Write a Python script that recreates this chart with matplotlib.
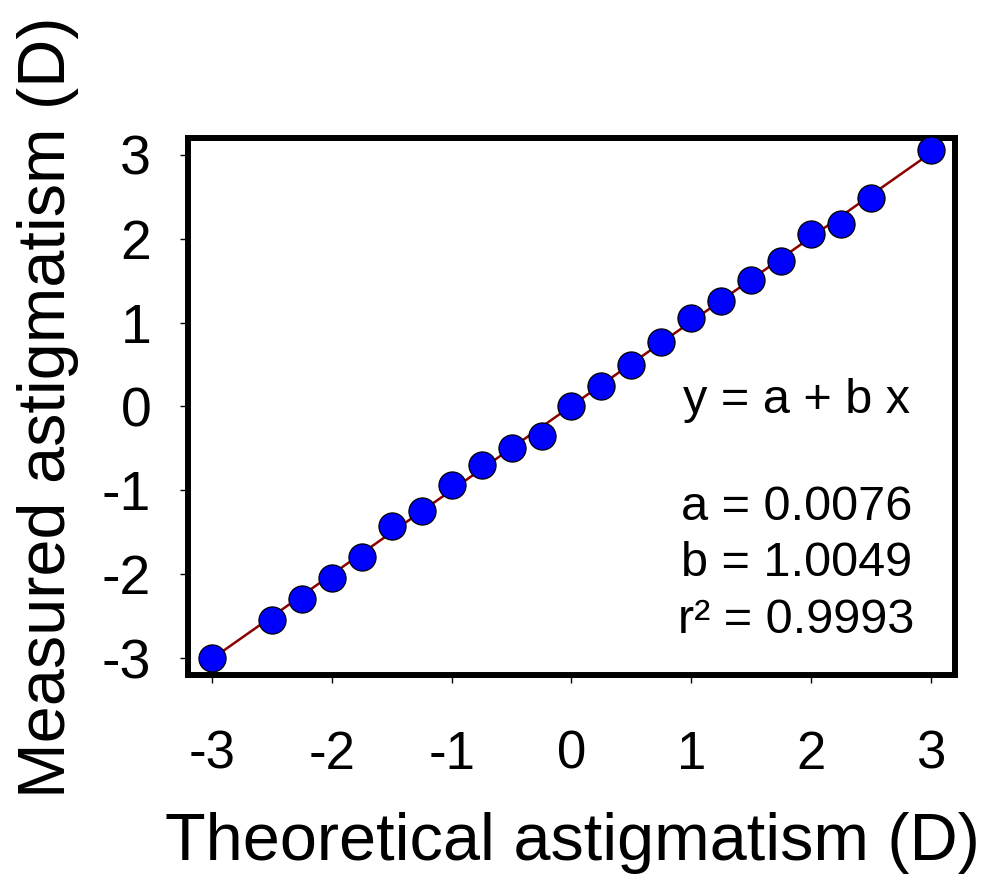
import numpy as np
import matplotlib
matplotlib.use("Agg")
import matplotlib.pyplot as plt

# theoretical vs measured astigmatism (D)
theoretical = [-3, -2.5, -2.25, -2, -1.75, -1.5, -1.25, -1, -0.75, -0.5, -0.25,
               0, 0.25, 0.5, 0.75, 1, 1.25, 1.5, 1.75, 2, 2.25, 2.5, 3]
measured = [-3.0, -2.54, -2.29, -2.04, -1.79, -1.42, -1.25, -0.93, -0.70, -0.50, -0.35,
            0.0, 0.25, 0.49, 0.77, 1.06, 1.26, 1.51, 1.73, 2.06, 2.18, 2.48, 3.06]

# regression results shown in the plot
fit_a = 0.0076
fit_b = 1.0049
fit_r2 = 0.9993

ticks = [-3, -2, -1, 0, 1, 2, 3]

plt.rcParams['font.family'] = ['Liberation Sans', 'DejaVu Sans']

fig = plt.figure(figsize=(9.89, 8.75), dpi=100)
ax = fig.add_axes([0.1901, 0.2286, 0.7755, 0.6137])

line_x = np.array([min(theoretical), max(theoretical)])
ax.plot(line_x, fit_a + fit_b * line_x, color='#8b0000', linewidth=1.8, zorder=2)
ax.plot(theoretical, measured, linestyle='none', marker='o', markersize=19.5,
        markerfacecolor='#0000ff', markeredgecolor='black', markeredgewidth=0.9,
        clip_on=False, zorder=5)

ax.set_xlim(-3.2, 3.2)
ax.set_ylim(-3.2, 3.2)
ax.set_xticks(ticks)
ax.set_yticks(ticks)
ax.set_xticklabels([str(t) for t in ticks])
ax.set_yticklabels([str(t) for t in ticks])

for s in ax.spines.values():
    s.set_linewidth(4.3)
ax.tick_params(axis='both', direction='out', length=5.5, width=1.0)
ax.tick_params(axis='y', labelsize=40, pad=21)
ax.tick_params(axis='x', labelsize=38, pad=34)

ax.set_xlabel('Theoretical astigmatism (D)', fontsize=48, va='baseline')
ax.set_ylabel('Measured astigmatism (D)', fontsize=48, va='baseline')
ax.xaxis.set_label_coords(0.501, -0.3445)
ax.yaxis.set_label_coords(-0.160, 0.499)

txt_x = 1.875
ax.text(txt_x, 0.07, 'y = a + b x', fontsize=35, ha='center', va='center')
ax.text(txt_x, -1.2, f'a = {fit_a:.4f}', fontsize=35, ha='center', va='center')
ax.text(txt_x, -1.87, f'b = {fit_b:.4f}', fontsize=35, ha='center', va='center')
ax.text(txt_x, -2.55, f'r\u00b2 = {fit_r2:.4f}', fontsize=35, ha='center', va='center')

fig.savefig('out.png', dpi=100)
